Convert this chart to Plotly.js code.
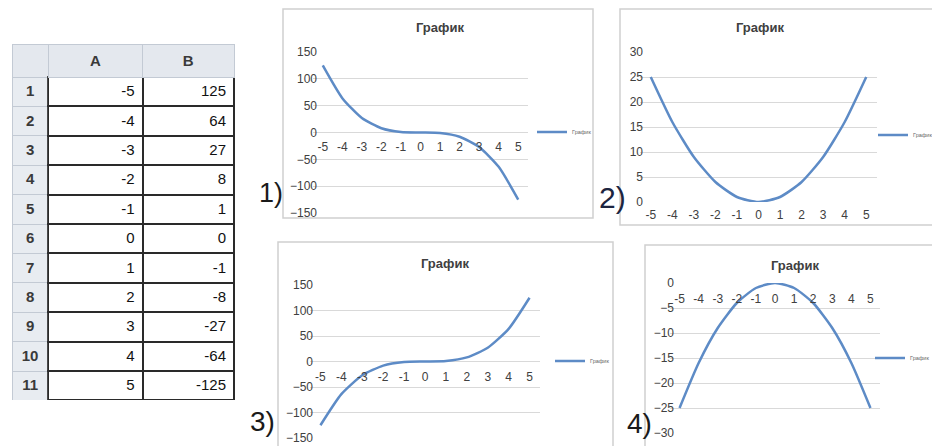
<!DOCTYPE html>
<html><head><meta charset="utf-8">
<script src="https://cdn.plot.ly/plotly-3.0.1.min.js"></script>
<style>html,body{margin:0;padding:0;background:#fff;overflow:hidden}#c{width:932px;height:446px}</style>
</head><body><div id="c"></div>
<script>
// ---- data ----
const rowNums = [1,2,3,4,5,6,7,8,9,10,11];
const colA = [-5,-4,-3,-2,-1,0,1,2,3,4,5];
const colB = [125,64,27,8,1,0,-1,-8,-27,-64,-125];
const xVals = [-5,-4,-3,-2,-1,0,1,2,3,4,5];
const chart1Y = [125,64,27,8,1,0,-1,-8,-27,-64,-125];
const chart2Y = [25,16,9,4,1,0,1,4,9,16,25];
const chart3Y = [-125,-64,-27,-8,-1,0,1,8,27,64,125];
const chart4Y = [-25,-16,-9,-4,-1,0,-1,-4,-9,-16,-25];
const tableHeader = ['', 'A', 'B'];
const chartTitle = 'График';
const seriesName = 'График';
const panelLabels = ['1)', '2)', '3)', '4)'];

// ---- layout helpers ----
const W = 932, H = 446;
const px = v => v / W;
const py = v => 1 - v / H;
const blue = '#5d8bc6';
const txt = '#404040';
const grid = '#d9d9d9';
const F = 'Liberation Sans, Arial, sans-serif';

const traces = [];
traces.push({
  type: 'table',
  domain: {x: [px(12), px(234)], y: [py(400), py(44)]},
  columnwidth: [36, 94, 91],
  header: {
    values: tableHeader.map(v => v ? '<b>' + v + '</b>' : v),
    height: 31,
    align: 'center',
    fill: {color: '#e4e8ee'},
    line: {color: '#c3cad4', width: 1},
    font: {family: F, size: 15, color: '#3a3a3a'}
  },
  cells: {
    values: [rowNums, colA, colB],
    height: 29.4,
    align: ['center', 'right', 'right'],
    fill: {color: ['#e8ecf1', '#ffffff', '#ffffff']},
    line: {color: ['#c3cad4', '#2a2a2a', '#2a2a2a'], width: [1, 2, 2]},
    font: {family: F, size: 15, color: ['#3a3a3a', '#111', '#111'], weight: [700, 400, 400]}
  }
});

const ys = [chart1Y, chart2Y, chart3Y, chart4Y];
ys.forEach((y, i) => {
  traces.push({
    type: 'scatter', mode: 'lines',
    x: xVals, y: y, name: seriesName,
    xaxis: i === 0 ? 'x' : 'x' + (i + 1),
    yaxis: i === 0 ? 'y' : 'y' + (i + 1),
    legend: i === 0 ? 'legend' : 'legend' + (i + 1),
    showlegend: true,
    line: {color: blue, width: 2.5, shape: 'spline', smoothing: 0.6},
    hoverinfo: 'skip'
  });
});

// chart geometry in pixels
const charts = [
  {xd: [313, 528], yTop: 52, yBot: 213, range: [-150, 150], dtick: 50, zeroPx: 132.5, xs: 5, ys: -5, frame: [283, 9, 593, 218], title: [440, 28], leg: [532, 132], lab: [271, 193], labSize: 27},
  {xd: [640, 877], yTop: 52, yBot: 202, range: [0, 30], dtick: 5, zeroPx: 202, xs: 4, ys: -4, frame: [620, 9, 940, 225], title: [760, 28], leg: [873, 135], lab: [612, 197], labSize: 30},
  {xd: [310, 540], yTop: 285, yBot: 438, range: [-150, 150], dtick: 50, zeroPx: 361.5, xs: 6, ys: -4, frame: [278, 242, 613, 460], title: [445, 263], leg: [550, 361], lab: [262, 421], labSize: 28},
  {xd: [670, 880], yTop: 283, yBot: 433, range: [-30, 0], dtick: 5, zeroPx: 283, xs: 7, ys: -5, frame: [645, 245, 940, 460], title: [795, 265], leg: [870, 358], lab: [639, 423], labSize: 28}
];

const layout = {
  width: W, height: H,
  margin: {l: 0, r: 0, t: 0, b: 0, autoexpand: false},
  paper_bgcolor: '#fff', plot_bgcolor: 'rgba(0,0,0,0)',
  font: {family: F, color: txt},
  showlegend: true,
  shapes: [], annotations: []
};

charts.forEach((c, i) => {
  const s = i === 0 ? '' : String(i + 1);
  layout['xaxis' + s] = {
    domain: [px(c.xd[0]), px(c.xd[1])],
    range: [-5.5, 5.5],
    anchor: 'free', position: py(c.zeroPx),
    tickvals: xVals, ticktext: xVals.map(String),
    showgrid: false, zeroline: false, showline: false,
    ticks: '', ticklabelstandoff: c.xs,
    tickfont: {family: F, size: 12, color: txt},
    automargin: false, fixedrange: true
  };
  layout['yaxis' + s] = {
    domain: [py(c.yBot), py(c.yTop)],
    range: c.range, dtick: c.dtick,
    anchor: i === 0 ? 'x' : 'x' + (i + 1),
    showgrid: true, gridcolor: grid, gridwidth: 1,
    zeroline: false, showline: false, ticks: '',
    ticklabelstandoff: c.ys,
    tickfont: {family: F, size: 12, color: txt},
    automargin: false, fixedrange: true
  };
  layout[i === 0 ? 'legend' : 'legend' + (i + 1)] = {
    x: px(c.leg[0]), y: py(c.leg[1]), xanchor: 'left', yanchor: 'middle',
    bgcolor: 'rgba(0,0,0,0)', font: {family: F, size: 5.5, color: '#666'},
    itemwidth: 30
  };
  layout.shapes.push({
    type: 'rect', xref: 'paper', yref: 'paper',
    x0: px(c.frame[0]), x1: px(c.frame[2]), y0: py(c.frame[3]), y1: py(c.frame[1]),
    line: {color: '#d0d0d0', width: 1.5}, fillcolor: 'rgba(0,0,0,0)', layer: 'below'
  });
  layout.annotations.push({
    xref: 'paper', yref: 'paper', x: px(c.title[0]), y: py(c.title[1]),
    xanchor: 'center', yanchor: 'middle',
    text: '<b>' + chartTitle + '</b>', showarrow: false,
    font: {family: F, size: 13, color: txt}
  });
  layout.annotations.push({
    xref: 'paper', yref: 'paper', x: px(c.lab[0]), y: py(c.lab[1]),
    xanchor: 'center', yanchor: 'middle',
    text: panelLabels[i], showarrow: false,
    font: {family: F, size: c.labSize, color: i === 1 ? '#1c2540' : '#1a1a1a'}
  });
});

Plotly.newPlot('c', traces, layout, {staticPlot: true, displayModeBar: false});
</script>
</body></html>
